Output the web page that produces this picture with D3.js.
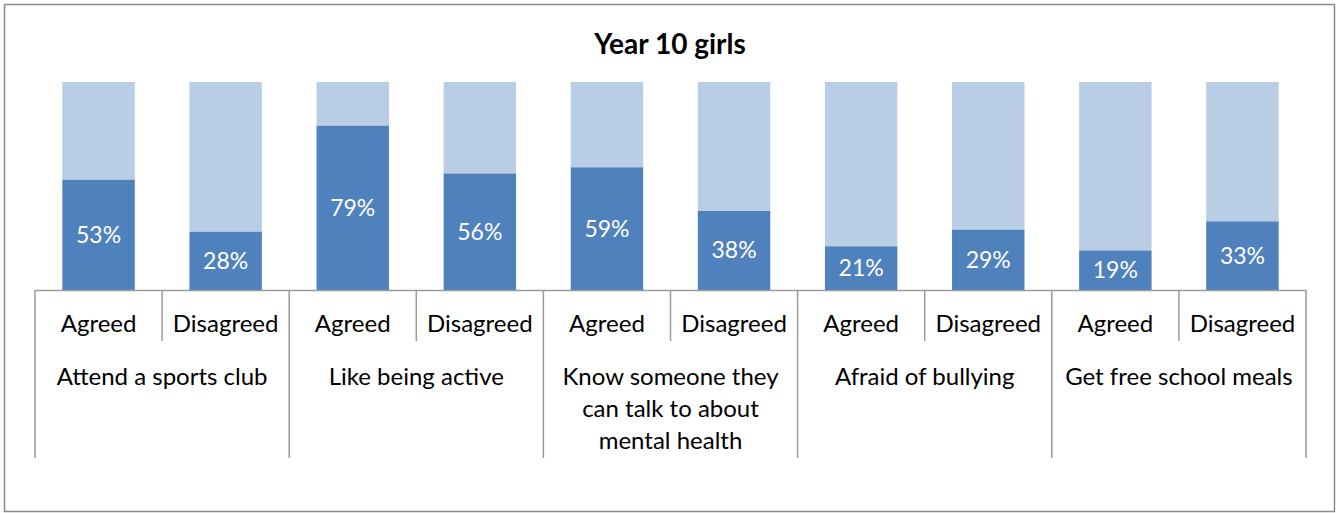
<!DOCTYPE html>
<html><head><meta charset="utf-8">
<script src="https://cdn.jsdelivr.net/npm/d3@7"></script>
<style>
body{margin:0;background:#fff;}
text{font-family:Lato, "Noto Sans", sans-serif;}
</style></head>
<body>
<svg id="c" width="1338" height="513"></svg>
<script>
const title = "Year 10 girls";
const groups = ["Attend a sports club", "Like being active", "Know someone they\ncan talk to about\nmental health", "Afraid of bullying", "Get free school meals"];
const responses = ["Agreed", "Disagreed"];
const values = [53, 28, 79, 56, 59, 38, 21, 29, 19, 33];

(function(){
const svg = d3.select("#c");
svg.append("rect").attr("x",4.5).attr("y",4.5).attr("width",1330).attr("height",507)
  .attr("fill","#fff").attr("stroke","#8a8a8a").attr("stroke-width",1.5);

const pL = 35, pR = 1306, pT = 82, pB = 290;
const keys = [];
groups.forEach((g,i)=>responses.forEach((r,j)=>keys.push(i+"|"+j)));
const rows = values.map((v,k)=>({key:keys[k], v}));

const x = d3.scaleBand().domain(keys).range([pL,pR]).paddingInner(0.43).paddingOuter(0.215);
const gx = d3.scaleBand().domain(groups).range([pL,pR]);
const y = d3.scaleLinear().domain([0,100]).range([pB,pT]);

svg.append("text").attr("x",670).attr("y",54).attr("text-anchor","middle")
  .attr("font-weight","bold").attr("font-size",28).attr("fill","#000").text(title);

svg.selectAll(".bg").data(rows).join("rect").attr("class","bg")
  .attr("x",d=>x(d.key)).attr("width",x.bandwidth())
  .attr("y",y(100)).attr("height",d=>y(d.v)-y(100)).attr("fill","#B9CDE5");
svg.selectAll(".fg").data(rows).join("rect").attr("class","fg")
  .attr("x",d=>x(d.key)).attr("width",x.bandwidth())
  .attr("y",d=>y(d.v)).attr("height",d=>y(0)-y(d.v)).attr("fill","#4F81BD");
svg.selectAll(".lbl").data(rows).join("text").attr("class","lbl")
  .attr("x",d=>x(d.key)+x.bandwidth()/2).attr("y",d=>(y(d.v)+y(0))/2+8)
  .attr("text-anchor","middle").attr("font-size",23).attr("fill","#fff")
  .text(d=>d.v+"%");

const lc = "#9a9a9a";
svg.append("line").attr("x1",pL).attr("x2",pR).attr("y1",pB+0.5).attr("y2",pB+0.5)
  .attr("stroke",lc).attr("stroke-width",1.5);
const slot = (pR-pL)/keys.length;
groups.forEach((g,i)=>{
  const mid = gx(g)+gx.bandwidth()/2;
  svg.append("line").attr("x1",mid).attr("x2",mid).attr("y1",pB).attr("y2",341).attr("stroke",lc).attr("stroke-width",1.5);
});
d3.range(groups.length+1).forEach(i=>{
  const xx = pL + i*gx.bandwidth();
  svg.append("line").attr("x1",xx).attr("x2",xx).attr("y1",pB).attr("y2",458).attr("stroke",lc).attr("stroke-width",1.5);
});
rows.forEach((d,k)=>{
  const j = k%2;
  svg.append("text").attr("x",pL+slot*k+slot/2).attr("y",332)
    .attr("text-anchor","middle").attr("font-size",24).attr("fill","#000").text(responses[j]);
});
groups.forEach(g=>{
  const t = svg.append("text").attr("x",gx(g)+gx.bandwidth()/2).attr("y",385)
    .attr("text-anchor","middle").attr("font-size",24).attr("fill","#000");
  g.split("\n").forEach((line,i)=>{
    t.append("tspan").attr("x",gx(g)+gx.bandwidth()/2).attr("dy",i?32:0).text(line);
  });
});
})();
</script>
</body></html>
